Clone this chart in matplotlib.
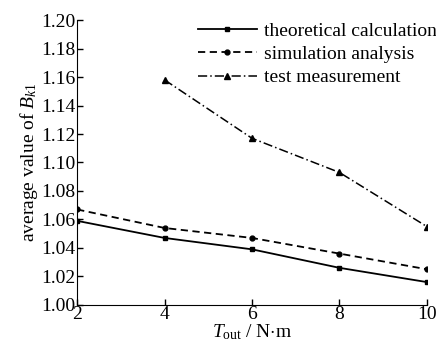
import matplotlib.pyplot as plt

plt.rcParams['font.family'] = ['Liberation Serif', 'DejaVu Serif']
plt.rcParams['mathtext.fontset'] = 'custom'
plt.rcParams['mathtext.rm'] = 'Liberation Serif'
plt.rcParams['mathtext.it'] = 'Liberation Serif:italic'

torque = [2, 4, 6, 8, 10]
theoretical = [1.059, 1.047, 1.039, 1.026, 1.016]
simulation = [1.067, 1.054, 1.047, 1.036, 1.025]
test_torque = [4, 6, 8, 10]
test = [1.158, 1.117, 1.093, 1.055]

fig = plt.figure(figsize=(4.36, 3.41), dpi=100)
ax = fig.add_axes([0.177, 0.106, 0.802, 0.835])

ax.plot(torque, theoretical, color='black', lw=1.3, marker='s', ms=3.5,
        label='theoretical calculation')
ax.plot(torque, simulation, color='black', lw=1.3, ls=(0, (4, 2.5)), marker='o', ms=3.5,
        label='simulation analysis')
ax.plot(test_torque, test, color='black', lw=1.1, ls=(0, (6, 2, 1, 2)), marker='^', ms=4,
        label='test measurement')

ax.set_xlim(2, 10)
ax.set_ylim(1.00, 1.20)
ax.set_xticks([2, 4, 6, 8, 10])
ax.set_yticks([1.00 + 0.02 * i for i in range(11)])
ax.set_yticklabels(['%.2f' % (1.00 + 0.02 * i) for i in range(11)])
ax.tick_params(direction='in', labelsize=14, length=4, width=1, pad=1)
ax.spines['top'].set_visible(False)
ax.spines['right'].set_visible(False)

ax.set_xlabel(r'$T_{\mathrm{out}}$ / N$\cdot$m', fontsize=14, labelpad=-1)
ax.set_ylabel(r'average value of $B_{k1}$', fontsize=14, labelpad=1)

ax.legend(loc='upper right', bbox_to_anchor=(1.08, 1.055), frameon=False, fontsize=14,
          handlelength=3.0, handletextpad=0.4, labelspacing=0.3)

fig.savefig('out.png', dpi=100)
